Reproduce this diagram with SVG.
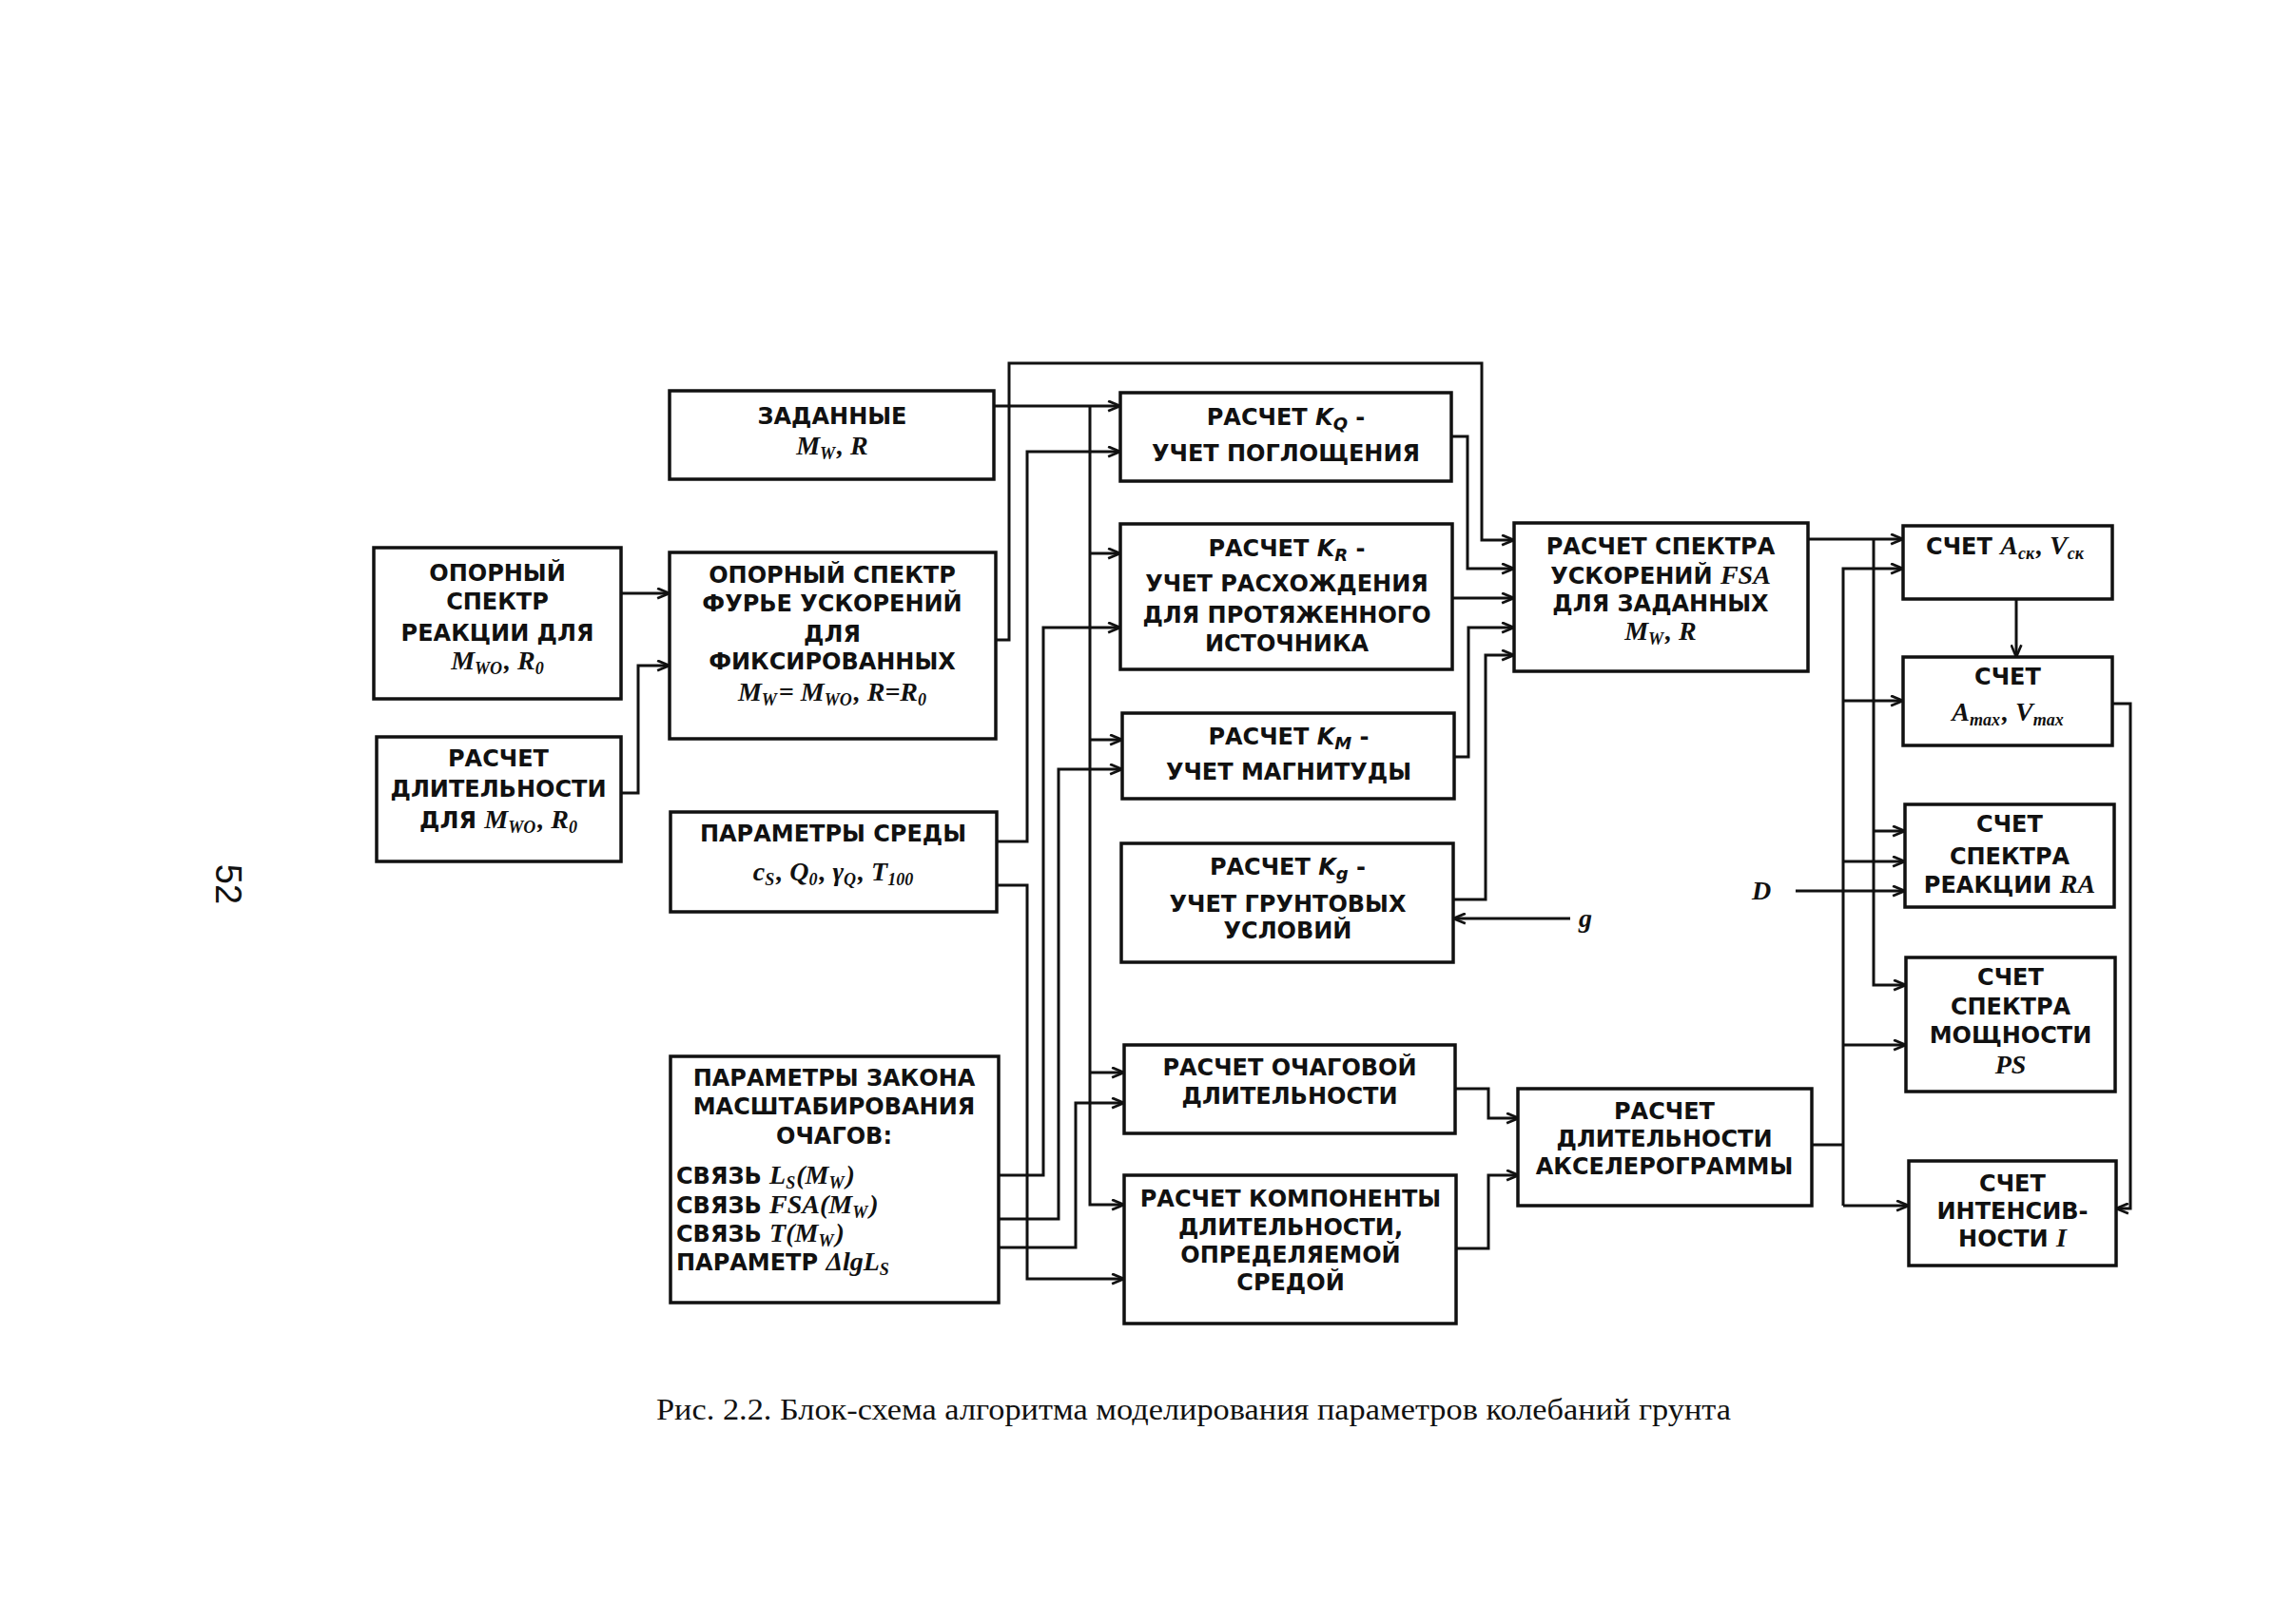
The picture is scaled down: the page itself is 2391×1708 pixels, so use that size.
<svg xmlns="http://www.w3.org/2000/svg" width="2391" height="1708" viewBox="0 0 2391 1708">
<defs>
<style>
.box{fill:#fff;stroke:#111;stroke-width:3.5}
.ln{fill:none;stroke:#111;stroke-width:3}
.la{fill:none;stroke:#111;stroke-width:3;marker-end:url(#ah)}
.t{font-family:"DejaVu Sans",sans-serif;font-weight:bold;font-size:24px;text-anchor:middle;fill:#111}
.tl{font-family:"DejaVu Sans",sans-serif;font-weight:bold;font-size:24px;text-anchor:start;fill:#111}
.m{font-family:"Liberation Serif",serif;font-weight:bold;font-style:italic;font-size:28px;text-anchor:middle;fill:#111}
.mi{font-family:"Liberation Serif",serif;font-weight:bold;font-style:italic;font-size:28px}
.k{font-family:"DejaVu Sans",sans-serif;font-weight:bold;font-style:italic}
.sb{font-size:18px}
.cap{font-family:"Liberation Serif",serif;font-size:32px;fill:#111}
</style>
<marker id="ah" viewBox="0 0 14 12" refX="13" refY="6" markerWidth="15" markerHeight="13" markerUnits="userSpaceOnUse" orient="auto">
<path d="M1,1 L13,6 L1,11" fill="none" stroke="#111" stroke-width="2.5"/>
</marker>
</defs>
<rect width="2391" height="1708" fill="#fff"/>

<g id="connectors">
<polyline class="la" points="653,624 704,624"/>
<polyline class="la" points="653,834 671,834 671,700 704,700"/>
<polyline class="la" points="1047,673 1061,673 1061,382 1558,382 1558,568 1592,568"/>
<polyline class="la" points="1045,427 1178,427"/>
<polyline class="la" points="1146,427 1146,1267 1182,1267"/>
<polyline class="la" points="1146,582 1178,582"/>
<polyline class="la" points="1146,778 1180,778"/>
<polyline class="la" points="1146,1128 1182,1128"/>
<polyline class="la" points="1048,885 1080,885 1080,475 1178,475"/>
<polyline class="la" points="1048,931 1080,931 1080,1345 1182,1345"/>
<polyline class="la" points="1050,1236 1097,1236 1097,660 1178,660"/>
<polyline class="la" points="1050,1282 1113,1282 1113,809 1180,809"/>
<polyline class="la" points="1050,1312 1131,1312 1131,1160 1182,1160"/>
<polyline class="la" points="1526,459 1543,459 1543,598 1592,598"/>
<polyline class="la" points="1527,629 1592,629"/>
<polyline class="la" points="1529,796 1544,796 1544,660 1592,660"/>
<polyline class="la" points="1528,946 1562,946 1562,689 1592,689"/>
<polyline class="la" points="1651,966 1528,966"/>
<polyline class="la" points="1530,1145 1565,1145 1565,1176 1597,1176"/>
<polyline class="la" points="1531,1313 1565,1313 1565,1236 1597,1236"/>
<polyline class="la" points="1901,567 2001,567"/>
<polyline class="la" points="1970,567 1970,1036 2004,1036"/>
<polyline class="la" points="1970,874 2003,874"/>
<polyline class="ln" points="1905,1204 1938,1204"/>
<polyline class="la" points="1938,1268 1938,598 2001,598"/>
<polyline class="la" points="1938,1268 2007,1268"/>
<polyline class="la" points="1938,737 2001,737"/>
<polyline class="la" points="1938,906 2003,906"/>
<polyline class="la" points="1938,1099 2004,1099"/>
<polyline class="la" points="1888,937 2003,937"/>
<polyline class="la" points="2120,630 2120,691"/>
<polyline class="la" points="2221,740 2240,740 2240,1271 2225,1271"/>
</g>

<g id="n_zadannye">
<rect class="box" x="704" y="411" width="341" height="93"/>
<text class="t" x="875" y="446">ЗАДАННЫЕ</text>
<text class="m" x="875" y="478">M<tspan class="sb" dy="5">W</tspan><tspan dy="-5" dx="2">, R</tspan></text>
</g>

<g id="n_opor_reak">
<rect class="box" x="393" y="576" width="260" height="159"/>
<text class="t" x="523" y="611">ОПОРНЫЙ</text>
<text class="t" x="523" y="641">СПЕКТР</text>
<text class="t" x="523" y="674">РЕАКЦИИ ДЛЯ</text>
<text class="m" x="523" y="704">M<tspan class="sb" dy="5">WO</tspan><tspan dy="-5" dx="2">, R</tspan><tspan class="sb" dy="5">0</tspan></text>
</g>

<g id="n_dlit_0">
<rect class="box" x="396" y="775" width="257" height="131"/>
<text class="t" x="524" y="806">РАСЧЕТ</text>
<text class="t" x="524" y="838">ДЛИТЕЛЬНОСТИ</text>
<text class="t" x="524" y="871">ДЛЯ <tspan class="mi">M<tspan class="sb" dy="5">WO</tspan><tspan dy="-5" dx="2">, R</tspan><tspan class="sb" dy="5">0</tspan></tspan></text>
</g>

<g id="n_opor_fur">
<rect class="box" x="704" y="581" width="343" height="196"/>
<text class="t" x="875" y="613">ОПОРНЫЙ СПЕКТР</text>
<text class="t" x="875" y="643">ФУРЬЕ УСКОРЕНИЙ</text>
<text class="t" x="875" y="675">ДЛЯ</text>
<text class="t" x="875" y="704">ФИКСИРОВАННЫХ</text>
<text class="m" x="875" y="737">M<tspan class="sb" dy="5">W</tspan><tspan dy="-5" dx="2">= M</tspan><tspan class="sb" dy="5">WO</tspan><tspan dy="-5" dx="2">, R=R</tspan><tspan class="sb" dy="5">0</tspan></text>
</g>

<g id="n_sreda">
<rect class="box" x="705" y="854" width="343" height="105"/>
<text class="t" x="876" y="885">ПАРАМЕТРЫ СРЕДЫ</text>
<text class="m" x="876" y="926">c<tspan class="sb" dy="5">S</tspan><tspan dy="-5" dx="2">, Q</tspan><tspan class="sb" dy="5">0</tspan><tspan dy="-5" dx="2">, γ</tspan><tspan class="sb" dy="5">Q</tspan><tspan dy="-5" dx="2">, T</tspan><tspan class="sb" dy="5">100</tspan></text>
</g>

<g id="n_zakon">
<rect class="box" x="705" y="1111" width="345" height="259"/>
<text class="t" x="877" y="1142">ПАРАМЕТРЫ ЗАКОНА</text>
<text class="t" x="877" y="1172">МАСШТАБИРОВАНИЯ</text>
<text class="t" x="877" y="1203">ОЧАГОВ:</text>
<text class="tl" x="711" y="1245">СВЯЗЬ <tspan class="mi">L<tspan class="sb" dy="5">S</tspan><tspan dy="-5" dx="1">(M</tspan><tspan class="sb" dy="5">W</tspan><tspan dy="-5" dx="2">)</tspan></tspan></text>
<text class="tl" x="711" y="1276">СВЯЗЬ <tspan class="mi">FSA(M<tspan class="sb" dy="5">W</tspan><tspan dy="-5" dx="2">)</tspan></tspan></text>
<text class="tl" x="711" y="1306">СВЯЗЬ <tspan class="mi">T(M<tspan class="sb" dy="5">W</tspan><tspan dy="-5" dx="2">)</tspan></tspan></text>
<text class="tl" x="711" y="1336">ПАРАМЕТР <tspan class="mi">ΔlgL<tspan class="sb" dy="5">S</tspan></tspan></text>
</g>

<g id="n_kq">
<rect class="box" x="1178" y="413" width="348" height="93"/>
<text class="t" x="1352" y="447">РАСЧЕТ <tspan class="k">K<tspan class="sb" dy="5">Q</tspan></tspan><tspan dy="-5"> -</tspan></text>
<text class="t" x="1352" y="485">УЧЕТ ПОГЛОЩЕНИЯ</text>
</g>

<g id="n_kr">
<rect class="box" x="1178" y="551" width="349" height="153"/>
<text class="t" x="1353" y="585">РАСЧЕТ <tspan class="k">K<tspan class="sb" dy="5">R</tspan></tspan><tspan dy="-5"> -</tspan></text>
<text class="t" x="1353" y="622">УЧЕТ РАСХОЖДЕНИЯ</text>
<text class="t" x="1353" y="655">ДЛЯ ПРОТЯЖЕННОГО</text>
<text class="t" x="1353" y="685">ИСТОЧНИКА</text>
</g>

<g id="n_km">
<rect class="box" x="1180" y="750" width="349" height="90"/>
<text class="t" x="1355" y="783">РАСЧЕТ <tspan class="k">K<tspan class="sb" dy="5">M</tspan></tspan><tspan dy="-5"> -</tspan></text>
<text class="t" x="1355" y="820">УЧЕТ МАГНИТУДЫ</text>
</g>

<g id="n_kg">
<rect class="box" x="1179" y="887" width="349" height="125"/>
<text class="t" x="1354" y="920">РАСЧЕТ <tspan class="k">K<tspan class="sb" dy="5">g</tspan></tspan><tspan dy="-5"> -</tspan></text>
<text class="t" x="1354" y="959">УЧЕТ ГРУНТОВЫХ</text>
<text class="t" x="1354" y="987">УСЛОВИЙ</text>
</g>

<g id="n_ochag">
<rect class="box" x="1182" y="1099" width="348" height="93"/>
<text class="t" x="1356" y="1131">РАСЧЕТ ОЧАГОВОЙ</text>
<text class="t" x="1356" y="1161">ДЛИТЕЛЬНОСТИ</text>
</g>

<g id="n_komp">
<rect class="box" x="1182" y="1236" width="349" height="156"/>
<text class="t" x="1357" y="1269">РАСЧЕТ КОМПОНЕНТЫ</text>
<text class="t" x="1357" y="1299">ДЛИТЕЛЬНОСТИ,</text>
<text class="t" x="1357" y="1328">ОПРЕДЕЛЯЕМОЙ</text>
<text class="t" x="1357" y="1357">СРЕДОЙ</text>
</g>

<g id="n_fsa">
<rect class="box" x="1592" y="550" width="309" height="156"/>
<text class="t" x="1746" y="583">РАСЧЕТ СПЕКТРА</text>
<text class="t" x="1746" y="614">УСКОРЕНИЙ <tspan class="mi">FSA</tspan></text>
<text class="t" x="1746" y="643">ДЛЯ ЗАДАННЫХ</text>
<text class="m" x="1746" y="673">M<tspan class="sb" dy="5">W</tspan><tspan dy="-5" dx="2">, R</tspan></text>
</g>

<g id="n_aksel">
<rect class="box" x="1596" y="1145" width="309" height="123"/>
<text class="t" x="1750" y="1177">РАСЧЕТ</text>
<text class="t" x="1750" y="1206">ДЛИТЕЛЬНОСТИ</text>
<text class="t" x="1750" y="1235">АКСЕЛЕРОГРАММЫ</text>
</g>

<g id="n_ask">
<rect class="box" x="2001" y="553" width="220" height="77"/>
<text class="t" x="2108" y="583">СЧЕТ <tspan class="mi">A<tspan class="sb" dy="5">ск</tspan><tspan dy="-5" dx="2">, V</tspan><tspan class="sb" dy="5">ск</tspan></tspan></text>
</g>

<g id="n_amax">
<rect class="box" x="2001" y="691" width="220" height="93"/>
<text class="t" x="2111" y="720">СЧЕТ</text>
<text class="m" x="2111" y="758">A<tspan class="sb" dy="5">max</tspan><tspan dy="-5" dx="2">, V</tspan><tspan class="sb" dy="5">max</tspan></text>
</g>

<g id="n_ra">
<rect class="box" x="2003" y="846" width="220" height="108"/>
<text class="t" x="2113" y="875">СЧЕТ</text>
<text class="t" x="2113" y="909">СПЕКТРА</text>
<text class="t" x="2113" y="939">РЕАКЦИИ <tspan class="mi">RA</tspan></text>
</g>

<g id="n_ps">
<rect class="box" x="2004" y="1007" width="220" height="141"/>
<text class="t" x="2114" y="1036">СЧЕТ</text>
<text class="t" x="2114" y="1067">СПЕКТРА</text>
<text class="t" x="2114" y="1097">МОЩНОСТИ</text>
<text class="m" x="2114" y="1129">PS</text>
</g>

<g id="n_int">
<rect class="box" x="2007" y="1221" width="218" height="110"/>
<text class="t" x="2116" y="1253">СЧЕТ</text>
<text class="t" x="2116" y="1282">ИНТЕНСИВ-</text>
<text class="t" x="2116" y="1311">НОСТИ <tspan class="mi">I</tspan></text>
</g>

<g id="labels">
<text class="m" x="1852" y="946">D</text>
<text class="m" x="1667" y="975">g</text>
<text x="227" y="930" transform="rotate(90 227 930)" style="font-family:'Liberation Sans',sans-serif;font-size:38px;text-anchor:middle;fill:#111">52</text>
<text class="cap" x="690" y="1493" textLength="1130" lengthAdjust="spacingAndGlyphs">Рис. 2.2. Блок-схема алгоритма моделирования параметров колебаний грунта</text>
</g>
</svg>
